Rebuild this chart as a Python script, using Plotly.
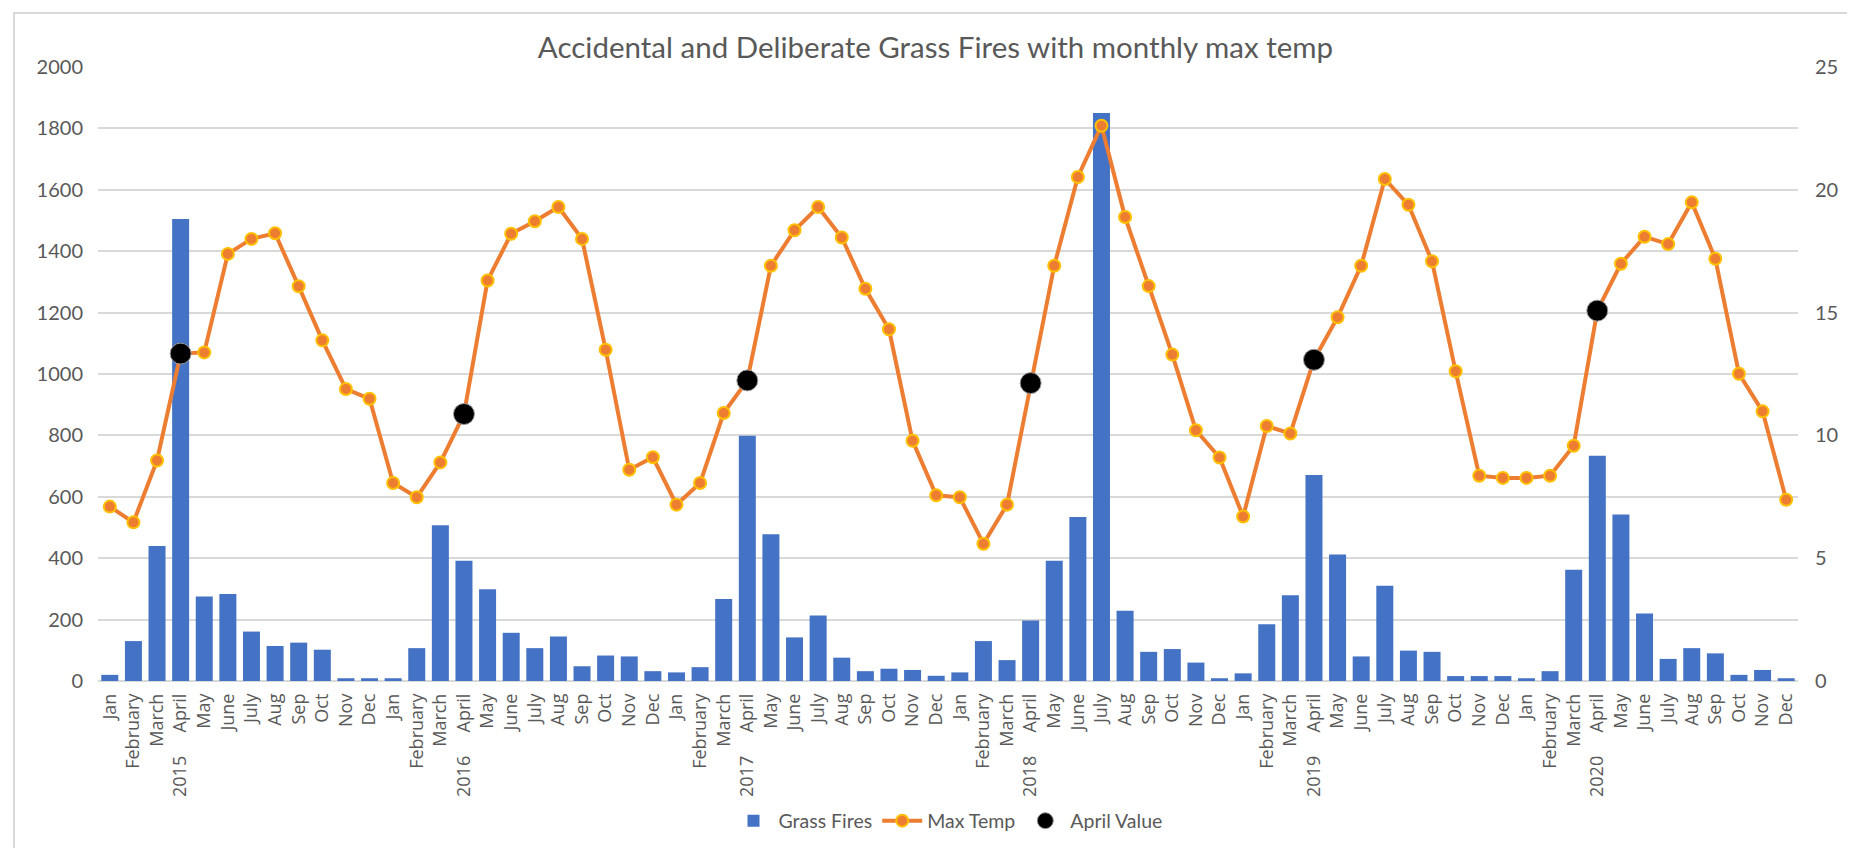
import plotly.graph_objects as go

years = [2015, 2016, 2017, 2018, 2019, 2020]
months = ["Jan", "February", "March", "April", "May", "June",
          "July", "Aug", "Sep", "Oct", "Nov", "Dec"]

grass_fires_2015 = [20, 130, 440, 1505, 275, 283, 161, 114, 125, 102, 9, 9]
grass_fires_2016 = [9, 107, 507, 392, 299, 157, 107, 145, 48, 83, 80, 32]
grass_fires_2017 = [28, 45, 267, 799, 478, 142, 213, 76, 32, 40, 36, 17]
grass_fires_2018 = [28, 130, 68, 197, 392, 534, 1850, 229, 95, 104, 60, 9]
grass_fires_2019 = [25, 185, 279, 671, 412, 80, 310, 99, 95, 16, 16, 16]
grass_fires_2020 = [9, 32, 362, 734, 542, 220, 72, 107, 90, 20, 36, 9]

max_temp_2015 = [7.1, 6.46, 8.98, 13.33, 13.38, 17.39, 18.0, 18.23, 16.07, 13.87, 11.89, 11.49]
max_temp_2016 = [8.06, 7.48, 8.9, 10.87, 16.31, 18.21, 18.72, 19.3, 18.0, 13.49, 8.6, 9.11]
max_temp_2017 = [7.18, 8.06, 10.91, 12.24, 16.91, 18.35, 19.3, 18.06, 15.97, 14.32, 9.78, 7.56]
max_temp_2018 = [7.48, 5.59, 7.18, 12.13, 16.91, 20.52, 22.61, 18.89, 16.08, 13.29, 10.21, 9.1]
max_temp_2019 = [6.7, 10.38, 10.08, 13.08, 14.81, 16.91, 20.44, 19.39, 17.09, 12.61, 8.36, 8.27]
max_temp_2020 = [8.27, 8.36, 9.58, 15.08, 16.99, 18.09, 17.79, 19.49, 17.19, 12.51, 10.98, 7.38]

grass_fires = (grass_fires_2015 + grass_fires_2016 + grass_fires_2017 +
               grass_fires_2018 + grass_fires_2019 + grass_fires_2020)
max_temp = (max_temp_2015 + max_temp_2016 + max_temp_2017 +
            max_temp_2018 + max_temp_2019 + max_temp_2020)

# category labels: year shown alongside April
NB = "\u00a0"
labels = []
for yr in years:
    for m in months:
        if m == "April":
            labels.append(f"{yr}{NB*5}{m}")
        else:
            labels.append(m)
idx = list(range(len(labels)))

april_idx = [i for i, l in enumerate(labels) if l.endswith("April")]
april_temp = [max_temp[i] for i in april_idx]

TXT = "#595959"
GRID = "#D9D9D9"

fig = go.Figure()
fig.add_trace(go.Bar(x=idx, y=grass_fires, name="Grass Fires",
                     marker=dict(color="#4472C4", line=dict(width=0))))
fig.add_trace(go.Scatter(x=idx, y=max_temp, name="Max Temp", yaxis="y2",
                         mode="lines+markers",
                         line=dict(color="#ED7D31", width=4),
                         marker=dict(color="#ED7D31", size=12,
                                     line=dict(color="#FFC000", width=2))))
fig.add_trace(go.Scatter(x=april_idx, y=april_temp, name="April Value", yaxis="y2",
                         mode="markers",
                         marker=dict(color="#000000", size=21,
                                     line=dict(color="#9A9A9A", width=1))))

L, R, T, B = 90, 65, 59, 175
W, H = 1855, 848
pw, ph = W - L - R, H - T - B

def px(xp):
    return (xp - L) / pw

def py(yp):
    return (H - B - yp) / ph

fig.update_layout(
    width=W, height=H,
    margin=dict(l=L, r=R, t=T, b=B),
    paper_bgcolor="white", plot_bgcolor="white",
    bargap=0.28,
    font=dict(family="Lato, sans-serif", color=TXT),
    title=dict(text="Accidental and Deliberate Grass Fires with monthly max temp",
               x=0.5, xref="container", xanchor="center",
               y=1 - 40 / H, yref="container", yanchor="middle",
               font=dict(family="Lato, sans-serif", size=29.5, color=TXT)),
    xaxis=dict(range=[-0.5, len(idx) - 0.5], tickmode="array",
               tickvals=idx, ticktext=labels, tickangle=-90,
               tickfont=dict(family="Open Sans, sans-serif", size=18, color=TXT),
               showgrid=False, zeroline=False, showline=False,
               ticks="", ticklabelstandoff=8, fixedrange=True),
    yaxis=dict(range=[0, 2000], dtick=200, showgrid=True, gridcolor=GRID,
               gridwidth=1.5, zeroline=True, zerolinecolor=GRID, zerolinewidth=1.5,
               showline=False, ticks="",
               tickfont=dict(family="Lato, sans-serif", size=20, color=TXT),
               ticklabelstandoff=14),
    yaxis2=dict(range=[0, 25], dtick=5, overlaying="y", side="right",
                showgrid=False, zeroline=False, showline=False, ticks="",
                tickfont=dict(family="Lato, sans-serif", size=20, color=TXT),
                ticklabelstandoff=16),
    legend=dict(orientation="h", x=0.5, xanchor="center",
                y=py(813), yanchor="middle",
                font=dict(family="Lato, sans-serif", size=19.5, color=TXT),
                bgcolor="rgba(0,0,0,0)", itemwidth=40),
    showlegend=True,
    shapes=[dict(type="rect", xref="paper", yref="paper",
                 x0=px(6), x1=px(1850), y0=py(846), y1=py(5),
                 line=dict(color=GRID, width=2), fillcolor="rgba(0,0,0,0)",
                 layer="below")],
)

fig.write_html("out.html")
